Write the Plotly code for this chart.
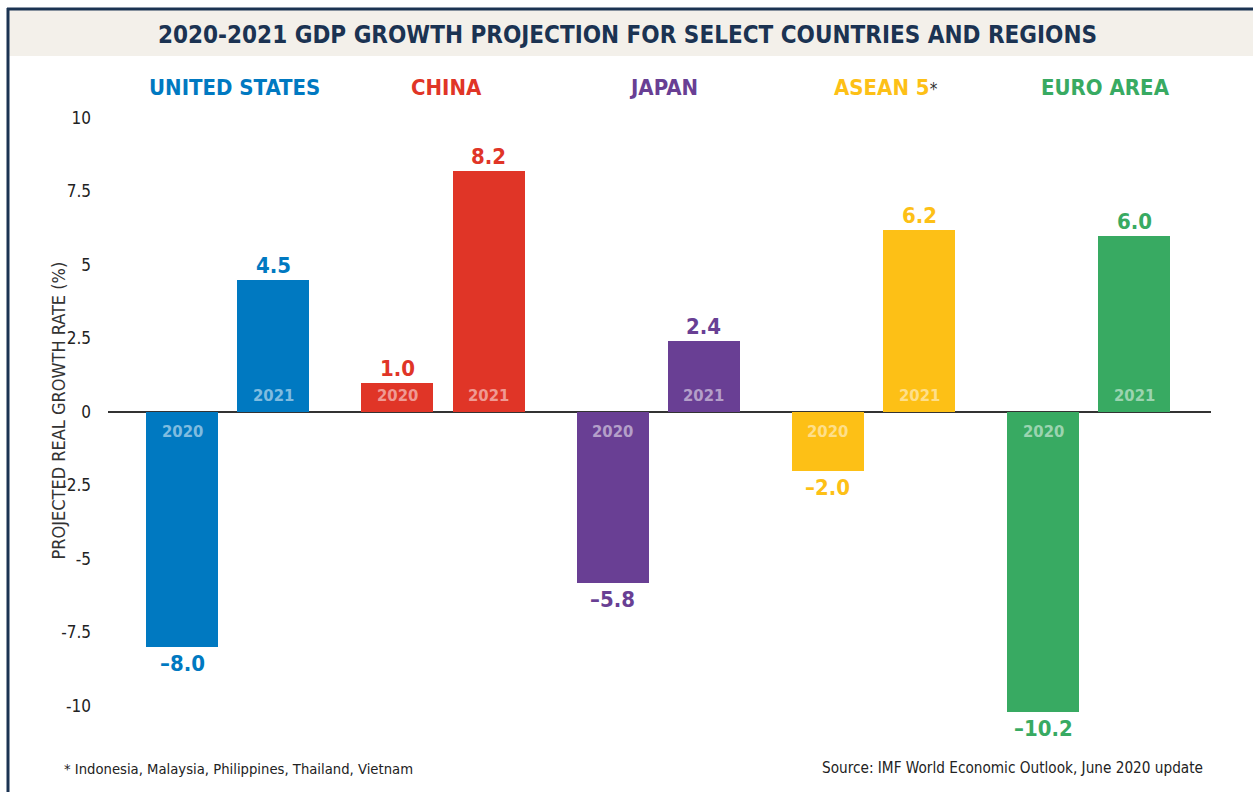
import plotly.graph_objects as go

# ---------------- data ----------------
regions = ["UNITED STATES", "CHINA", "JAPAN", "ASEAN 5", "EURO AREA"]
growth_2020 = [-8.0, 1.0, -5.8, -2.0, -10.2]
growth_2021 = [4.5, 8.2, 2.4, 6.2, 6.0]
region_colors = ["#0079C1", "#E03527", "#693F94", "#FDC016", "#38AA62"]
tick_vals = [10, 7.5, 5, 2.5, 0, -2.5, -5, -7.5, -10]
tick_text = ["10", "7.5", "5", "2.5", "0", "-2.5", "-5", "-7.5", "-10"]
title_text = "2020-2021 GDP GROWTH PROJECTION FOR SELECT COUNTRIES AND REGIONS"
y_title = "PROJECTED REAL GROWTH RATE (%)"
footnote = "* Indonesia, Malaysia, Philippines, Thailand, Vietnam"
source = "Source: IMF World Economic Outlook, June 2020 update"

# ---------------- layout constants ----------------
W, H = 1253, 792
ML, MR, MT, MB = 108, 42, 100, 52
PW, PH = W - ML - MR, H - MT - MB
OFFSET = 0.2125
BARW = 0.3345
HEADER_SHIFTS = [7, 3, 5, 12, 17]
COND = "DejaVu Sans Condensed, Liberation Sans Narrow, Arial Narrow, sans-serif"
NAVY = "#1B3352"


def px(xp):
    return (xp - ML) / PW


def py(yp):
    return (H - MB - yp) / PH


idx = list(range(len(regions)))
x2020 = [i - OFFSET for i in idx]
x2021 = [i + OFFSET for i in idx]

fig = go.Figure()
fig.add_trace(go.Bar(x=x2020, y=growth_2020, width=BARW, marker=dict(color=region_colors, line=dict(width=0)),
                     hoverinfo="skip", showlegend=False))
fig.add_trace(go.Bar(x=x2021, y=growth_2021, width=BARW, marker=dict(color=region_colors, line=dict(width=0)),
                     hoverinfo="skip", showlegend=False))

ann = []


def fmt(v):
    return ("–" if v < 0 else "") + f"{abs(v):.1f}"


for xs, vals, yr in ((x2020, growth_2020, "2020"), (x2021, growth_2021, "2021")):
    for x, v, c in zip(xs, vals, region_colors):
        pos = v >= 0
        # year label inside bar
        ann.append(dict(x=x, y=0, xref="x", yref="y", text=f"<b>{yr}</b>", showarrow=False,
                        font=dict(family=COND, size=16.5, color="rgba(255,255,255,0.5)"),
                        yanchor="middle", yshift=17 if pos else -19))
        # value label
        ann.append(dict(x=x, y=v, xref="x", yref="y", text=f"<b>{fmt(v)}</b>", showarrow=False,
                        font=dict(family=COND, size=22, color=c),
                        yanchor="bottom" if pos else "top", yshift=0 if pos else -2))

# region headers
for i, (name, c) in enumerate(zip(regions, region_colors)):
    txt = f"<b>{name}</b>"
    if name == "ASEAN 5":
        txt = f"<b>{name}</b><span style='color:#333333;font-size:17px'>*</span>"
    ann.append(dict(x=i, y=py(87), xref="x", yref="paper", text=txt, showarrow=False,
                    font=dict(family=COND, size=22, color=c), xshift=HEADER_SHIFTS[i],
                    yanchor="middle"))

# title
ann.append(dict(x=px(627), y=py(35), xref="paper", yref="paper", text=f"<b>{title_text}</b>",
                showarrow=False, font=dict(family=COND, size=24, color=NAVY), yanchor="middle"))
# y-axis title
ann.append(dict(x=px(45), y=py(411), xref="paper", yref="paper", text=y_title, textangle=-90,
                showarrow=False, font=dict(family=COND, size=18, color="#333333"), yanchor="middle"))
# footnotes
ann.append(dict(x=px(62), y=py(768), xref="paper", yref="paper", text=footnote, showarrow=False,
                xanchor="left", yanchor="middle", font=dict(family=COND, size=14.7, color="#222222")))
ann.append(dict(x=px(1205), y=py(768), xref="paper", yref="paper", text=source, showarrow=False,
                xanchor="right", yanchor="middle", font=dict(family=COND, size=15.2, color="#222222")))

shapes = [
    # title band
    dict(type="rect", xref="paper", yref="paper", x0=px(9), x1=px(W + 5), y0=py(56), y1=py(10),
         fillcolor="#F3F0EA", line=dict(width=0), layer="below"),
    # top border
    dict(type="line", xref="paper", yref="paper", x0=px(7), x1=px(W + 5), y0=py(9), y1=py(9),
         line=dict(color=NAVY, width=3)),
    # left border
    dict(type="line", xref="paper", yref="paper", x0=px(8), x1=px(8), y0=py(8), y1=py(H + 5),
         line=dict(color=NAVY, width=3)),
]

y_top = (412 - MT) / 29.4
y_bot = -(H - MB - 412) / 29.4

fig.update_layout(
    width=W, height=H,
    margin=dict(l=ML, r=MR, t=MT, b=MB, pad=0),
    paper_bgcolor="white", plot_bgcolor="white",
    bargap=0,
    annotations=ann, shapes=shapes,
    xaxis=dict(range=[-(227.75 - ML) / 215.25, 4 + (ML + PW - 227.75 - 4 * 215.25) / 215.25],
               showgrid=False, zeroline=False, showticklabels=False, ticks="", fixedrange=True),
    yaxis=dict(range=[y_bot, y_top], tickvals=tick_vals, ticktext=tick_text, showgrid=False,
               zeroline=True, zerolinecolor="#333333", zerolinewidth=2, showline=False, ticks="",
               ticklabelstandoff=16, tickfont=dict(family=COND, size=17, color="#222222"), fixedrange=True),
)

fig.write_html("out.html")
